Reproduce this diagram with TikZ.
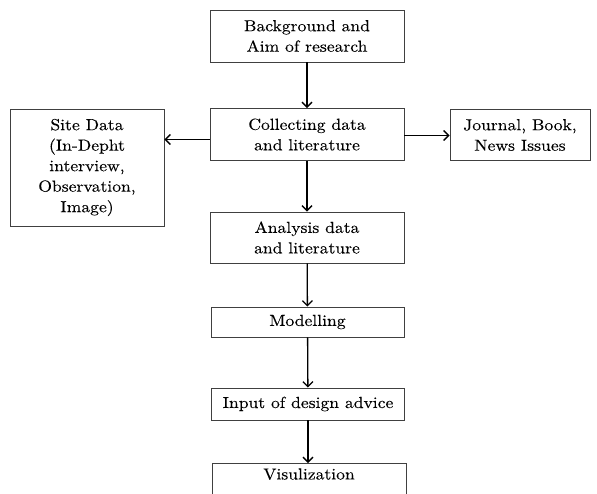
\documentclass[tikz,border=0pt]{standalone}
\usepackage{fontspec}
\setmainfont{lmroman10-regular.otf}[FakeStretch=1.1,FakeBold=0.15]
\usetikzlibrary{arrows.meta}
\begin{document}
\begin{tikzpicture}[x=1pt,y=-1pt,
  box/.style={draw=black!75, line width=0.9pt, align=center, inner sep=0pt,
    font=\fontsize{16}{20.5}\selectfont},
  arr/.style={line width=1.3pt, -{Straight Barb[length=5pt,width=10pt,line width=1.3pt]}}]
\useasboundingbox (0,0) rectangle (597,493);
\clip (0,0) rectangle (597,493);
\node[box, minimum width=194pt, minimum height=52pt] (bg) at (307,36) {Background and\\Aim of research};
\node[box, minimum width=194pt, minimum height=52pt] (col) at (307,134.5) {Collecting data\\and literature};
\node[box, minimum width=154pt, minimum height=117pt] (site) at (87,167.5) {Site Data\\(In-Depht\\interview,\\Observation,\\Image)};
\node[box, minimum width=140pt, minimum height=51pt] (jour) at (520,135) {Journal, Book,\\News Issues};
\node[box, minimum width=194pt, minimum height=51pt] (ana) at (307,237.5) {Analysis data\\and literature};
\node[box, minimum width=193pt, minimum height=30pt] (mod) at (307.5,322) {Modelling};
\node[box, minimum width=193pt, minimum height=32pt] (inp) at (308,404) {Input of design advice};
\node[box, minimum width=194pt, anchor=north, text height=12pt, text depth=40pt, inner ysep=4pt] (vis) at (309,463) {Visulization};
\coordinate (lft) at ([yshift=-5pt]col.west);
\coordinate (rgt) at ([yshift=-1pt]col.east);
\draw[arr] (bg) -- (col);
\draw[arr] (col) -- (ana);
\draw[arr] (lft) -- (lft -| site.east);
\draw[arr] (rgt) -- (rgt -| jour.west);
\draw[arr] (ana) -- (mod);
\draw[arr] (mod) -- (inp);
\draw[arr] (inp.south) -- (inp.south |- vis.north);
\end{tikzpicture}
\end{document}
